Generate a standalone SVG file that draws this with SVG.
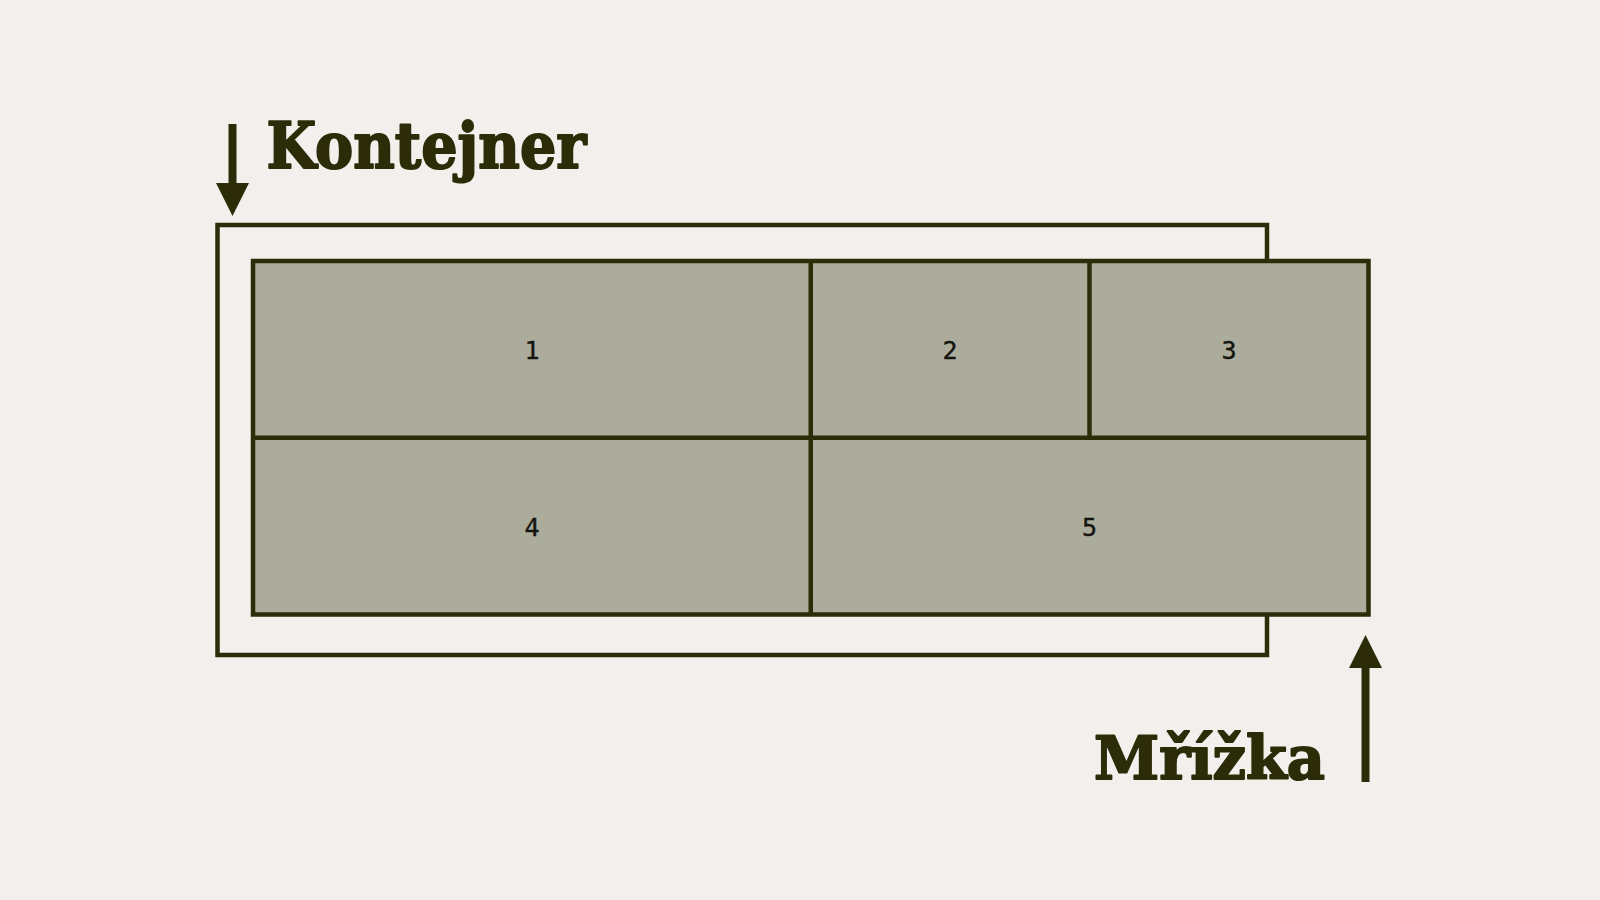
<svg xmlns="http://www.w3.org/2000/svg" width="1600" height="900" viewBox="0 0 1600 900">
<style>
.bg{fill:#f1f0ec}
.frame{fill:none;stroke:#2c2c08;stroke-width:4.5}
.cell{fill:#abac9c;stroke:#2c2c08;stroke-width:4.5}
.num{font-family:'DejaVu Sans Mono','Liberation Mono',monospace;font-size:25px;fill:#15150f;stroke:#15150f;stroke-width:0.4;text-anchor:middle;dominant-baseline:central}
.title{font-family:'DejaVu Serif','Liberation Serif',serif;font-weight:bold;fill:#2c2c08;stroke:#2c2c08;stroke-width:2;stroke-linejoin:round}
.shaft{stroke:#2c2c08;stroke-width:8}
.head{fill:#2c2c08}
</style>
<rect class="bg" x="0" y="0" width="1600" height="900"/>
<g id="kontejner">
<rect class="frame" x="217.5" y="225" width="1049.5" height="430"/>
</g>
<g id="mrizka">
<rect class="cell" x="253" y="261" width="1115.5" height="353.5"/>
<line class="frame" x1="810.75" y1="261" x2="810.75" y2="614.5"/>
<line class="frame" x1="1089.5" y1="261" x2="1089.5" y2="437.75"/>
<line class="frame" x1="253" y1="437.75" x2="1368.5" y2="437.75"/>
</g>
<g id="cell1"><text class="num" x="532" y="350.5">1</text></g>
<g id="cell2"><text class="num" x="950" y="350.5">2</text></g>
<g id="cell3"><text class="num" x="1229" y="350.5">3</text></g>
<g id="cell4"><text class="num" x="532" y="527.5">4</text></g>
<g id="cell5"><text class="num" x="1089.5" y="527.5">5</text></g>
<g id="label-kontejner"><text class="title" x="266.5" y="168" font-size="63" textLength="320" lengthAdjust="spacingAndGlyphs">Kontejner</text></g>
<g id="label-mrizka"><text class="title" x="1094" y="778.5" font-size="60" textLength="231" lengthAdjust="spacingAndGlyphs">Mřížka</text></g>
<g id="connectors">
<line class="shaft" x1="232.5" y1="124" x2="232.5" y2="186"/>
<polygon class="head" points="216,183 249,183 232.5,216"/>
<line class="shaft" x1="1365.5" y1="782" x2="1365.5" y2="665"/>
<polygon class="head" points="1349,668 1382,668 1365.5,635"/>
</g>
</svg>
